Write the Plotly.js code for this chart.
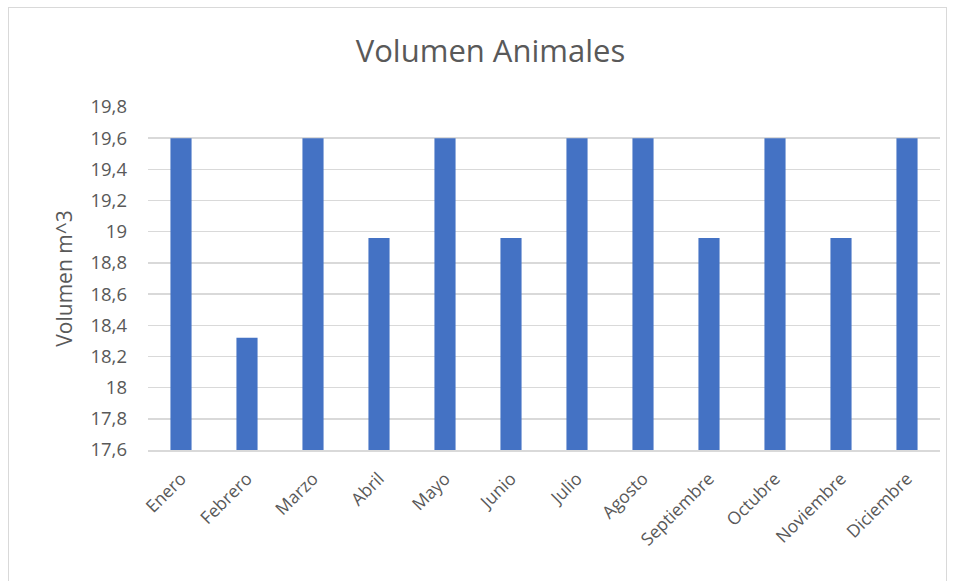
<!DOCTYPE html>
<html>
<head>
<meta charset="utf-8">
<script src="https://cdn.plot.ly/plotly-3.0.1.min.js"></script>
<style>
  html, body { margin: 0; padding: 0; background: #fff; }
  #wrap { position: relative; width: 958px; height: 581px; }
  #frame { position: absolute; left: 8px; top: 7px; width: 939px; height: 580px; border: 1px solid #d9d9d9; box-sizing: border-box; pointer-events: none; }
  #chart { position: absolute; left: 0; top: 0; width: 958px; height: 581px; }
</style>
</head>
<body>
<div id="wrap">
  <div id="chart"></div>
  <div id="frame"></div>
</div>
<script>
const months = ["Enero", "Febrero", "Marzo", "Abril", "Mayo", "Junio", "Julio", "Agosto", "Septiembre", "Octubre", "Noviembre", "Diciembre"];
const volumes = [19.6, 18.32, 19.6, 18.96, 19.6, 18.96, 19.6, 19.6, 18.96, 19.6, 18.96, 19.6];
const yTicks = [17.6, 17.8, 18, 18.2, 18.4, 18.6, 18.8, 19, 19.2, 19.4, 19.6, 19.8];

const FONT = "Open Sans, Noto Sans, sans-serif";
const GREY = "#595959";

Plotly.newPlot("chart", [{
  type: "bar",
  x: months,
  y: volumes,
  marker: { color: "#4472c4" },
  hoverinfo: "x+y"
}], {
  width: 958,
  height: 581,
  separators: ",.",
  paper_bgcolor: "rgba(0,0,0,0)",
  plot_bgcolor: "#fff",
  margin: { l: 148, r: 18, t: 107, b: 131 },
  bargap: 0.68,
  showlegend: false,
  title: {
    text: "Volumen Animales",
    font: { family: FONT, size: 31, color: GREY },
    x: 0.512, xanchor: "center",
    y: 0.912, yanchor: "middle", yref: "container"
  },
  xaxis: {
    type: "category",
    tickangle: -45,
    tickfont: { family: FONT, size: 17.5, color: GREY },
    showline: true, linecolor: "#d9d9d9", linewidth: 1.5,
    ticks: "", showgrid: false,
    ticklabelstandoff: 10
  },
  yaxis: {
    range: [17.6, 19.8],
    tickvals: yTicks,
    tickfont: { family: FONT, size: 18.5, color: GREY },
    gridcolor: "#d9d9d9", gridwidth: 1.5,
    zeroline: false, showline: false, ticks: "",
    ticklabelstandoff: 20,
    title: { text: "Volumen m^3", font: { family: FONT, size: 21, color: GREY }, standoff: 12 }
  }
}, { displayModeBar: false, staticPlot: true });
</script>
</body>
</html>
